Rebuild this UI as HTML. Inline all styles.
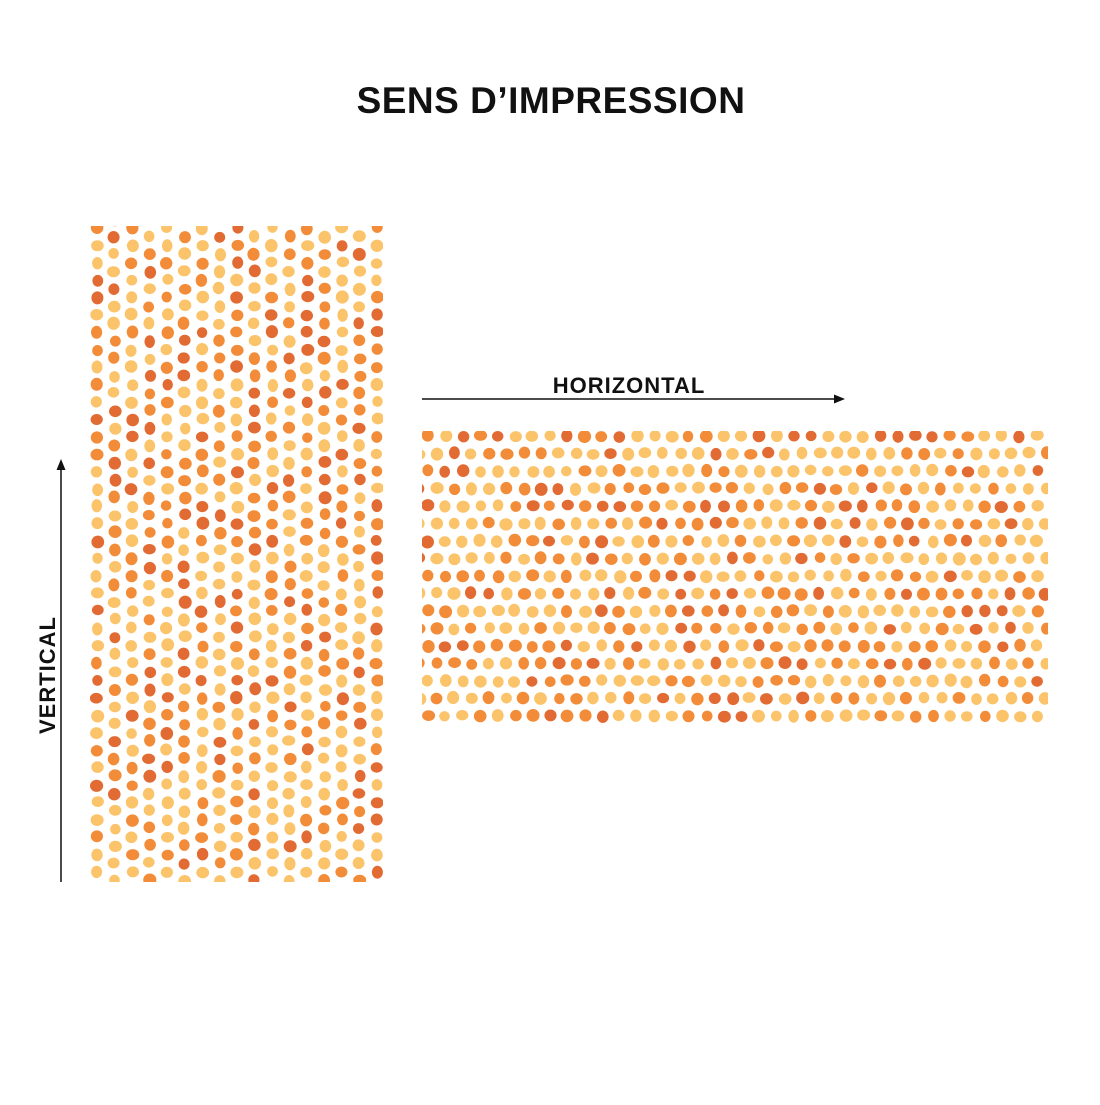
<!DOCTYPE html>
<html><head><style>
html,body{margin:0;padding:0;background:#fff}
body{width:1100px;height:1100px;position:relative;overflow:hidden;font-family:"Liberation Sans",sans-serif}
</style></head><body>
<svg id="s" width="1100" height="1100" viewBox="0 0 1100 1100" xmlns="http://www.w3.org/2000/svg">
<defs>
<clipPath id="cv"><rect x="90" y="226" width="293" height="656"/></clipPath>
<clipPath id="ch"><rect x="422" y="431" width="626" height="293"/></clipPath>
</defs>
<text x="551" y="113" text-anchor="middle" font-family="Liberation Sans" font-weight="bold" font-size="37" letter-spacing="0.5" fill="#111">SENS D’IMPRESSION</text>
<text x="629" y="393" text-anchor="middle" font-family="Liberation Sans" font-weight="bold" font-size="22" letter-spacing="1" fill="#111">HORIZONTAL</text>
<line x1="422" y1="399" x2="836" y2="399" stroke="#111" stroke-width="1.5"/>
<polygon points="845,399 834,394.5 834,403.5" fill="#111"/>
<line x1="61" y1="882" x2="61" y2="470" stroke="#111" stroke-width="1.5"/>
<polygon points="61,459 56.5,470 65.5,470" fill="#111"/>
<text transform="translate(55,675) rotate(-90)" text-anchor="middle" font-family="Liberation Sans" font-weight="bold" font-size="22" letter-spacing="1" fill="#111">VERTICAL</text>
<g id="gv" clip-path="url(#cv)"></g>
<g id="gh" clip-path="url(#ch)"></g>
</svg>
<script>
var seed=7;function r(){seed=(seed*16807)%2147483647;return seed/2147483647;}
var cols=["#FBC36A","#FBC36A","#FBC36A","#F28C38","#F28C38","#E26B33"];
function dot(g,x,y){var c=document.createElementNS("http://www.w3.org/2000/svg","ellipse");
c.setAttribute("cx",(x+(r()-0.5)*2).toFixed(1));c.setAttribute("cy",(y+(r()-0.5)*2).toFixed(1));
c.setAttribute("rx",(5.2+r()*1.4).toFixed(1));c.setAttribute("ry",(5.2+r()*1.4).toFixed(1));
c.setAttribute("fill",cols[Math.floor(r()*cols.length)]);g.appendChild(c);}
var gv=document.getElementById("gv"),gh=document.getElementById("gh");
for(var i=0;i<17;i++){var x=97+i*17.5;var off=(i%2)*8.7;for(var y=228+off-17.4;y<895;y+=17.4)dot(gv,x,y);}
for(var j=0;j<17;j++){var y=436+j*17.5;var off=(j%2)*8.7;for(var x=428+off-17.4;x<1060;x+=17.4)dot(gh,x,y);}
</script>
</body></html>
